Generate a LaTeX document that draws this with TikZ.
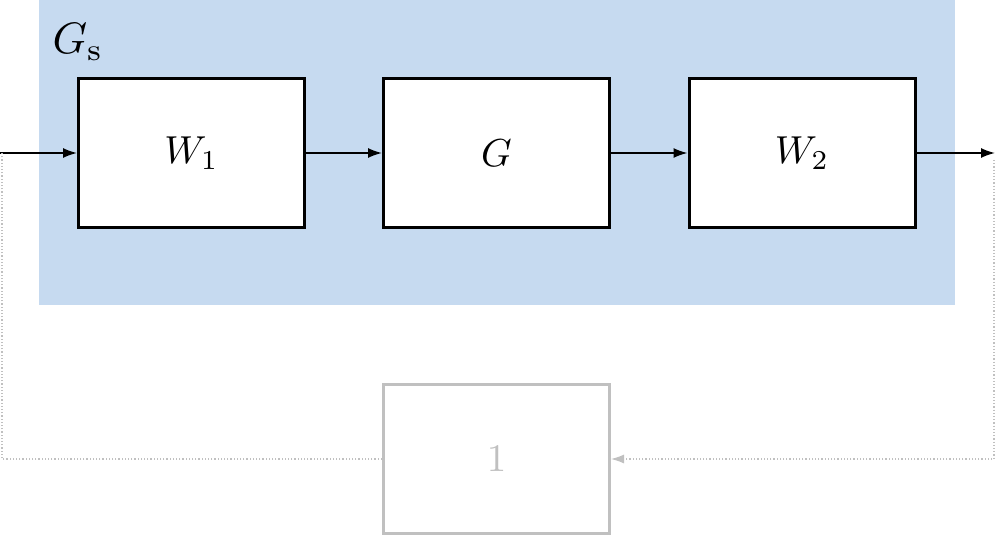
\documentclass[tikz,border=0pt]{standalone}
\usepackage{graphicx}
\usetikzlibrary{arrows.meta}
\definecolor{bgblue}{HTML}{C6DAF0}
\definecolor{fbgray}{HTML}{C0C0C0}
\newcommand{\bigtext}[1]{\scalebox{3.9}{#1}}
\newcommand{\labeltext}[1]{\scalebox{4.4}{#1}}
\begin{document}
\begin{tikzpicture}[x=1pt,y=-1pt,
  blockbox/.style={draw=black,line width=3pt,fill=white,minimum width=226pt,minimum height=149pt,inner sep=0pt},
  fbbox/.style={blockbox,draw=fbgray,text=fbgray},
  sig/.style={line width=1.6pt,-{Latex[length=14pt,width=10pt]}},
  fbsig/.style={line width=1.2pt,draw=fbgray,dotted,-{Latex[length=13pt,width=9pt]}}]
\useasboundingbox (0,0) rectangle (995,537);
\fill[bgblue] (39,0) rectangle (955,305);
\node[inner sep=0pt] (gs) at (78,42) {\labeltext{$G_{\mathrm{s}}$}};
\node[blockbox] (w1) at (191.5,153) {\bigtext{$W_1$}};
\node[blockbox] (g) at (496.5,153) {\bigtext{$G$}};
\node[blockbox] (w2) at (802,153) {\bigtext{$W_2$}};
\node[fbbox] (one) at (496.5,459) {\bigtext{$1$}};
\coordinate (in) at (0,153);
\coordinate (out) at (995,153);
\coordinate (rb) at (994,459);
\coordinate (lb) at (2,459);
\coordinate (lt) at (2,153);
\draw[sig] (in) -- (w1);
\draw[sig] (w1) -- (g);
\draw[sig] (g) -- (w2);
\draw[sig] (w2) -- (out);
\draw[fbsig] (994,160) -- (rb) -- (one);
\draw[fbsig,-] (one) -- (lb) -- (lt);
\end{tikzpicture}
\end{document}
